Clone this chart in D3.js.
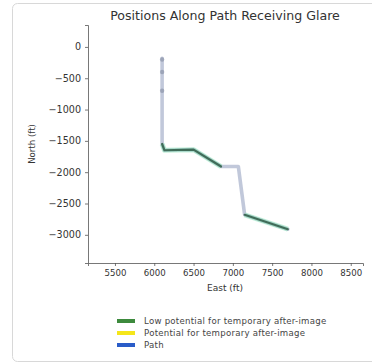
<!DOCTYPE html>
<html>
<head>
<meta charset="utf-8">
<script src="https://cdn.jsdelivr.net/npm/d3@7"></script>
<style>
  body { margin: 0; background: #fff; }
  svg text { font-family: "DejaVu Sans", sans-serif; }
</style>
</head>
<body>
<svg id="chart" width="372" height="364"></svg>
<script>
// path vertices (ft)
var pathEast  = [6100, 6100, 6130, 6500, 6850, 7070, 7150, 7700];
var pathNorth = [-180, -1550, -1650, -1640, -1910, -1910, -2680, -2910];
// markers along the northern leg
var markNorth = [-200, -400, -700];
// low potential glare stretches (vertex indices into the path)
var lowGlareRuns = [[1, 2, 3, 4], [6, 7]];

var xTicks = [5500, 6000, 6500, 7000, 7500, 8000, 8500];
var yTicks = [0, -500, -1000, -1500, -2000, -2500, -3000];

var legendLabels = ["Low potential for temporary after-image", "Potential for temporary after-image", "Path"];
var legendColors = ["#3d8a3d", "#f5e61a", "#2a5cc8"];

var svg = d3.select("#chart");

// card outline
svg.append("rect").attr("x", 12.5).attr("y", 3.5).attr("width", 380).attr("height", 358)
  .attr("rx", 5).attr("fill", "#fff").attr("stroke", "#d8d8d8");

var plotL = 88, plotR = 363, plotT = 25, plotB = 263;
var x = d3.scaleLinear().domain([5157, 8656]).range([plotL, plotR]);
var y = d3.scaleLinear().domain([-3450, 350]).range([plotB, plotT]);

var fmt = function (d) { return String(d).replace("-", "\u2212"); };

var xAxis = svg.append("g").attr("transform", "translate(0," + plotB + ")")
  .call(d3.axisBottom(x).tickValues(xTicks).tickFormat(fmt).tickSize(3).tickPadding(4));
var yAxis = svg.append("g").attr("transform", "translate(" + plotL + ",0)")
  .call(d3.axisLeft(y).tickValues(yTicks).tickFormat(fmt).tickSize(3).tickPadding(4));
[xAxis, yAxis].forEach(function (a) {
  a.selectAll("path,line").attr("stroke", "#555").attr("stroke-width", 0.8);
  a.selectAll("text").attr("fill", "#333");
});
xAxis.selectAll("text").attr("font-size", 8.6);
yAxis.selectAll("text").attr("font-size", 9.6);

var line = d3.line().x(function (d) { return x(d[0]); }).y(function (d) { return y(d[1]); });
var pts = pathEast.map(function (e, i) { return [e, pathNorth[i]]; });

// path
svg.append("path").datum(pts).attr("d", line).attr("fill", "none")
  .attr("stroke", "#98a3c2").attr("stroke-width", 3.6).attr("stroke-opacity", 0.6)
  .attr("stroke-linejoin", "round").attr("stroke-linecap", "round");
svg.selectAll(".mk").data(markNorth).enter().append("circle")
  .attr("cx", x(pathEast[0])).attr("cy", function (d) { return y(d); })
  .attr("r", 2.2).attr("fill", "#7d879c").attr("opacity", 0.55);

// glare runs
lowGlareRuns.forEach(function (run) {
  var seg = run.map(function (i) { return pts[i]; });
  svg.append("path").datum(seg).attr("d", line).attr("fill", "none")
    .attr("stroke", "#7fe0b0").attr("stroke-width", 5).attr("stroke-opacity", 0.45)
    .attr("stroke-linejoin", "round");
  svg.append("path").datum(seg).attr("d", line).attr("fill", "none")
    .attr("stroke", "#2f5a45").attr("stroke-width", 2.2).attr("stroke-opacity", 0.85)
    .attr("stroke-linejoin", "round").attr("stroke-linecap", "round");
});

// titles
svg.append("text").attr("x", 225).attr("y", 20).attr("text-anchor", "middle")
  .attr("font-size", 12.6).attr("fill", "#333").text("Positions Along Path Receiving Glare");
svg.append("text").attr("x", 225).attr("y", 291).attr("text-anchor", "middle")
  .attr("font-size", 9).attr("fill", "#333").text("East (ft)");
svg.append("text").attr("transform", "translate(35," + (plotT + plotB) / 2 + ") rotate(-90)")
  .attr("text-anchor", "middle").attr("font-size", 8.6).attr("fill", "#333").text("North (ft)");

// legend
var lg = svg.append("g").selectAll("g").data(legendLabels).enter().append("g")
  .attr("transform", function (d, i) { return "translate(117," + (321 + i * 12) + ")"; });
lg.append("rect").attr("x", 0).attr("y", -2).attr("width", 18).attr("height", 4)
  .attr("fill", function (d, i) { return legendColors[i]; });
lg.append("text").attr("x", 27).attr("y", 3).attr("font-size", 8.6).attr("fill", "#444")
  .attr("letter-spacing", 0.25)
  .text(function (d) { return d; });
</script>
</body>
</html>
